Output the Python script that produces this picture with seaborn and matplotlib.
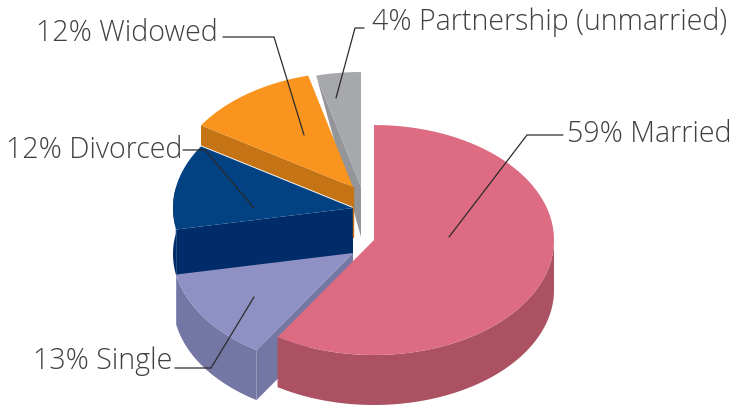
import numpy as np
import matplotlib
matplotlib.use("Agg")
import matplotlib.pyplot as plt
import seaborn as sns

categories = ["Married", "Single", "Divorced", "Widowed", "Partnership (unmarried)"]
shares = [59, 13, 12, 12, 4]
top_colors = ["#DD6B82", "#8F91C4", "#024182", "#F9941E", "#A7A8AC"]
wall_colors = ["#AB5162", "#7476A3", "#002D6A", "#C47414", "#949599"]
apexes = [(374, 240), (353, 253), (353, 208), (353, 187), (361, 187)]
depths = [50, 50, 46, 20, 50]
label_xy = [(567, 134), (33, 361), (6, 150), (36, 33), (372, 22)]
leaders = [
    [(449, 237), (527, 135), (563, 135)],
    [(254, 297), (211, 368), (175, 368)],
    [(254, 208), (205, 150), (183, 150)],
    [(304, 135), (274, 37), (223, 37)],
    [(336, 98), (355, 28), (364, 28)],
]
RX, RY = 180, 115

sns.set_theme(style="white")
plt.rcParams["font.family"] = ["Open Sans", "DejaVu Sans"]
fig = plt.figure(figsize=(7.36, 4.05), dpi=100)
ax = fig.add_axes([0, 0, 1, 1])
ax.set_xlim(0, 736)
ax.set_ylim(405, 0)
ax.axis("off")

edges = np.concatenate([[0], np.cumsum(shares)]) * 3.6


def rim(cx, cy, a0, a1, n=80):
    t = np.radians(np.linspace(a0, a1, n))
    return np.c_[cx + RX * np.sin(t), cy - RY * np.cos(t)]


# back-to-front order
for i in [4, 3, 2, 1, 0]:
    cx, cy = apexes[i]
    a0, a1 = edges[i], edges[i + 1]
    d = np.array([0, depths[i]])
    a = np.array([cx, cy])
    p = rim(cx, cy, a0, a0, 1)[0]
    top = np.vstack([[(cx, cy)], rim(cx, cy, a0, a1)])
    if i == 4:
        ax.fill(*np.array([p, a, a + d]).T, color=wall_colors[i], lw=0)
    elif i == 3:
        ax.fill(*np.array([p, a, a + d, p + d]).T, color=wall_colors[i], lw=0)
        ax.plot([cx - 0.5, cx - 0.5], [cy, cy + 50], color=wall_colors[i], lw=1)
    elif i == 2:
        ax.fill(*np.array([p, a, a + d, p + d]).T, color=wall_colors[i], lw=0)
        o = rim(cx, cy, a0, 280)
        ax.fill(*np.vstack([o, (o + d)[::-1]]).T, color=wall_colors[i], lw=0)
    elif i == 1:
        o = rim(cx, cy, a0, a1)
        ax.fill(*np.vstack([o, (o + d)[::-1]]).T, color=wall_colors[i], lw=0)
        ax.fill(*np.array([p, a, a + d, p + d]).T, color=wall_colors[i], lw=0)
    else:
        o = rim(cx, cy, 90, a1)
        ax.fill(*np.vstack([o, (o + d)[::-1]]).T, color=wall_colors[i], lw=0)
    ax.fill(*top.T, color=top_colors[i], lw=0)

for i, pts in enumerate(leaders):
    ax.plot(*np.array(pts).T, color="#2b2b2b", lw=0.9, solid_joinstyle="miter")
    ax.text(*label_xy[i], f"{shares[i]}% {categories[i]}", fontsize=20.6,
            color="#404040", va="center", ha="left", fontweight="light")

fig.savefig("out.png", dpi=100)
